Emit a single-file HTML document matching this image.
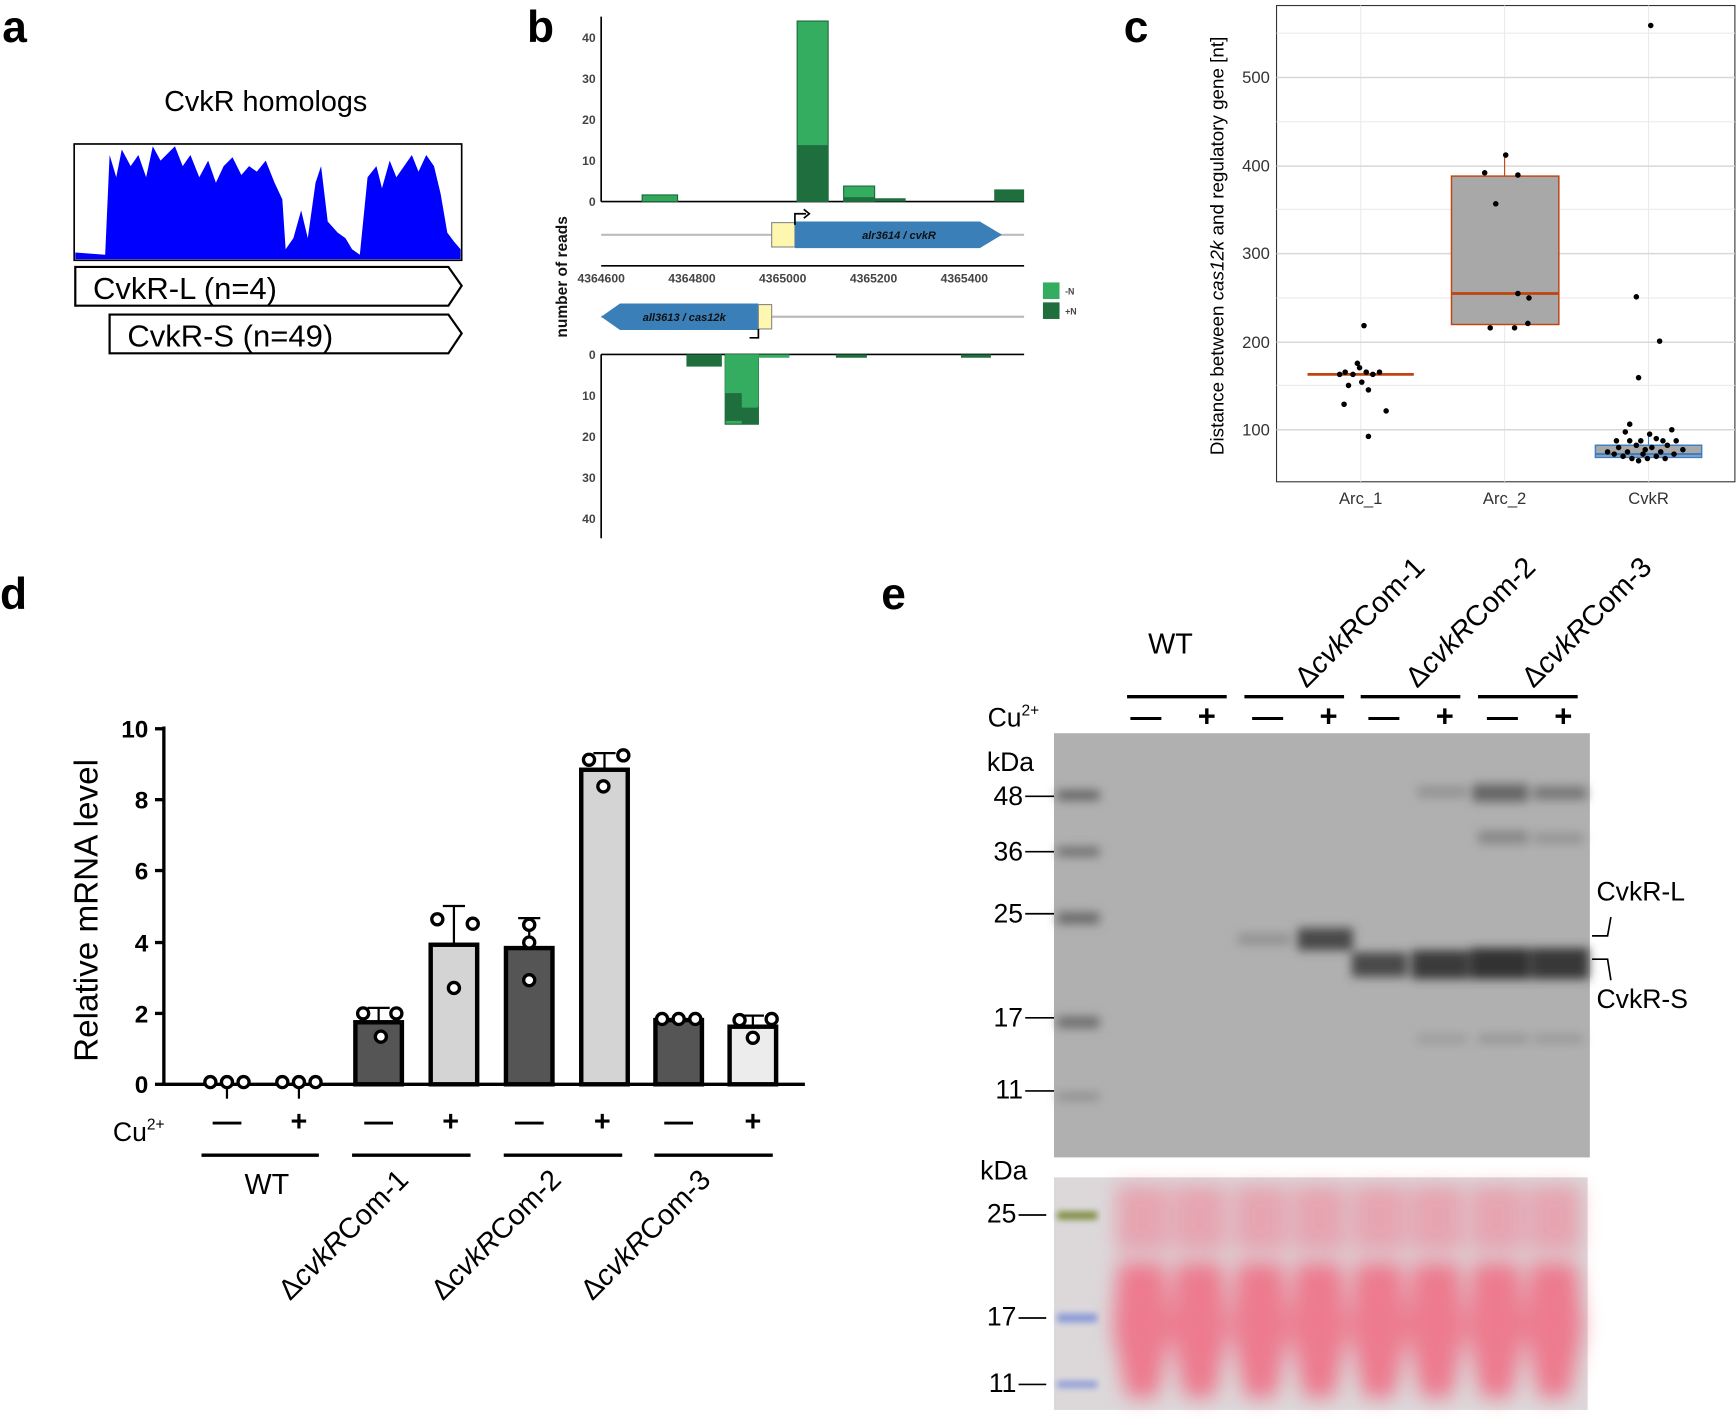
<!DOCTYPE html>
<html><head><meta charset="utf-8"><style>html,body{margin:0;padding:0;background:#fff}svg{display:block}text{font-family:"Liberation Sans",Arial,sans-serif}</style></head><body>
<svg width="1736" height="1421" viewBox="0 0 1568 1283" preserveAspectRatio="none" xmlns="http://www.w3.org/2000/svg">
<defs>
<filter id="blur3"><feGaussianBlur stdDeviation="4.5"/></filter>
<filter id="blur2"><feGaussianBlur stdDeviation="3"/></filter>
<filter id="blur6"><feGaussianBlur stdDeviation="9"/></filter>
</defs>
<g font-weight="bold" font-size="40">
<text x="2" y="38">a</text><text x="476" y="38">b</text><text x="1015" y="38">c</text>
<text x="0" y="550">d</text><text x="796" y="550">e</text></g>

<!-- a -->
<text x="240" y="100" font-size="26" text-anchor="middle">CvkR homologs</text>
<rect x="67" y="130" width="350" height="105" fill="#fff" stroke="#000" stroke-width="1.5"/>
<path d="M68,234 L68,228 L95,230 L99,140 L105,160 L110,135 L118,150 L125,140 L132,160 L138,132 L145,145 L152,138 L158,132 L165,150 L172,140 L180,160 L188,145 L195,165 L202,150 L210,142 L218,158 L225,150 L232,155 L240,145 L248,165 L255,180 L258,225 L265,215 L272,190 L278,215 L285,165 L290,150 L296,200 L305,210 L312,215 L318,225 L325,230 L332,160 L340,150 L345,170 L352,145 L358,160 L365,150 L372,140 L378,155 L385,140 L392,150 L398,175 L404,210 L410,218 L416,225 L416,234 Z" fill="#0000ff"/>
<path d="M68,241 L405,241 L417,258 L405,276 L68,276 Z" fill="#fff" stroke="#000" stroke-width="2"/>
<text x="84" y="270" font-size="28">CvkR-L (n=4)</text>
<path d="M99,284 L405,284 L417,301 L405,319 L99,319 Z" fill="#fff" stroke="#000" stroke-width="2"/>
<text x="115" y="313" font-size="28">CvkR-S (n=49)</text>

<!-- b -->
<g font-size="11" font-weight="bold" fill="#444">
<line x1="543" y1="15" x2="543" y2="182" stroke="#000" stroke-width="1.5"/>
<line x1="543" y1="182" x2="925" y2="182" stroke="#000" stroke-width="1.5"/>
<text x="538" y="186" text-anchor="end">0</text><text x="538" y="149" text-anchor="end">10</text><text x="538" y="112" text-anchor="end">20</text><text x="538" y="75" text-anchor="end">30</text><text x="538" y="38" text-anchor="end">40</text>
<rect x="580" y="176" width="32" height="6" fill="#34a85a" stroke="#1a6a38"/>
<rect x="720" y="19" width="28" height="163" fill="#34ad60" stroke="#1a6a38"/>
<rect x="720" y="131" width="28" height="51" fill="#1f6e3e"/>
<rect x="762" y="168" width="28" height="14" fill="#34ad60" stroke="#1a6a38"/>
<rect x="762" y="178" width="28" height="4" fill="#1f6e3e"/>
<rect x="790" y="179" width="28" height="3" fill="#1f6e3e"/>
<rect x="898" y="171" width="27" height="11" fill="#1f6e3e"/>
<line x1="543" y1="212" x2="925" y2="212" stroke="#bbb" stroke-width="2"/>
<rect x="697" y="201" width="21" height="22" fill="#fdf7b0" stroke="#888"/>
<path d="M718,200 L885,200 L905,212 L885,224 L718,224 Z" fill="#3a7fb8"/>
<text x="812" y="216" font-size="10" font-style="italic" fill="#111" text-anchor="middle">alr3614 / cvkR</text>
<path d="M718,203 L718,193 L728,193" fill="none" stroke="#000" stroke-width="1.5"/><path d="M726,189 L731,193 L726,197" fill="none" stroke="#000" stroke-width="1.5"/>
<line x1="543" y1="240" x2="925" y2="240" stroke="#000" stroke-width="1.5"/>
<text x="543" y="255" text-anchor="middle">4364600</text><text x="625" y="255" text-anchor="middle">4364800</text><text x="707" y="255" text-anchor="middle">4365000</text><text x="789" y="255" text-anchor="middle">4365200</text><text x="871" y="255" text-anchor="middle">4365400</text>
<rect x="942" y="255" width="15" height="15" fill="#34ad60"/><rect x="942" y="273" width="15" height="15" fill="#1f6e3e"/>
<text x="962" y="266" font-size="8">-N</text><text x="962" y="284" font-size="8">+N</text>
<line x1="543" y1="286" x2="925" y2="286" stroke="#bbb" stroke-width="2"/>
<path d="M685,274 L560,274 L543,286 L560,298 L685,298 Z" fill="#3a7fb8"/>
<rect x="685" y="275" width="12" height="22" fill="#fdf7b0" stroke="#888"/>
<text x="618" y="290" font-size="10" font-style="italic" fill="#111" text-anchor="middle">all3613 / cas12k</text>
<path d="M685,297 L685,305 L677,305" fill="none" stroke="#000" stroke-width="1.5"/>
<text transform="translate(512,250) rotate(-90)" font-size="14" fill="#111" text-anchor="middle">number of reads</text>
<line x1="543" y1="320" x2="543" y2="486" stroke="#000" stroke-width="1.5"/>
<line x1="543" y1="320" x2="925" y2="320" stroke="#000" stroke-width="1.5"/>
<text x="538" y="324" text-anchor="end">0</text><text x="538" y="361" text-anchor="end">10</text><text x="538" y="398" text-anchor="end">20</text><text x="538" y="435" text-anchor="end">30</text><text x="538" y="472" text-anchor="end">40</text>
<rect x="620" y="320" width="32" height="11" fill="#1f6e3e"/>
<rect x="655" y="320" width="30" height="63" fill="#34ad60" stroke="#1a6a38"/>
<path d="M655,320 L655,368 L670,368 L670,367 L685,367 L685,320 Z" fill="#34ad60"/>
<path d="M655,355 L670,355 L670,368 L685,368 L685,383 L670,383 L670,380 L655,380 Z" fill="#1f6e3e"/>
<rect x="685" y="320" width="28" height="3" fill="#34ad60"/>
<rect x="755" y="320" width="28" height="3" fill="#1f6e3e"/>
<rect x="868" y="320" width="27" height="3" fill="#1f6e3e"/>
</g>

<!-- c -->
<g>
<rect x="1153" y="5" width="414" height="430" fill="#fff" stroke="#333" stroke-width="1"/>
<g stroke="#ebebeb" stroke-width="1">
<line x1="1153" y1="348" x2="1567" y2="348"/><line x1="1153" y1="269" x2="1567" y2="269"/><line x1="1153" y1="189" x2="1567" y2="189"/><line x1="1153" y1="110" x2="1567" y2="110"/><line x1="1153" y1="30" x2="1567" y2="30"/>
<line x1="1229" y1="5" x2="1229" y2="435"/><line x1="1359" y1="5" x2="1359" y2="435"/><line x1="1489" y1="5" x2="1489" y2="435"/>
</g>
<g stroke="#d8d8d8" stroke-width="1.3">
<line x1="1153" y1="388" x2="1567" y2="388"/><line x1="1153" y1="309" x2="1567" y2="309"/><line x1="1153" y1="229" x2="1567" y2="229"/><line x1="1153" y1="150" x2="1567" y2="150"/><line x1="1153" y1="70" x2="1567" y2="70"/>
</g>
<g font-size="15" fill="#333" text-anchor="end">
<text x="1147" y="393">100</text><text x="1147" y="314">200</text><text x="1147" y="234">300</text><text x="1147" y="155">400</text><text x="1147" y="75">500</text></g>
<g font-size="15" fill="#333" text-anchor="middle"><text x="1229" y="455">Arc_1</text><text x="1359" y="455">Arc_2</text><text x="1489" y="455">CvkR</text></g>
<text transform="translate(1105,222) rotate(-90)" font-size="17" text-anchor="middle">Distance between <tspan font-style="italic">cas12k</tspan> and regulatory gene [nt]</text>
<line x1="1181" y1="338" x2="1277" y2="338" stroke="#c0440f" stroke-width="2.5"/>
<line x1="1359" y1="159" x2="1359" y2="142" stroke="#c0440f"/>
<rect x="1311" y="159" width="97" height="134" fill="#a8a8a8" stroke="#c0440f" stroke-width="1.3"/>
<line x1="1311" y1="265" x2="1408" y2="265" stroke="#c0440f" stroke-width="2.5"/>
<line x1="1489" y1="402" x2="1489" y2="390" stroke="#3a7fc8"/>
<rect x="1441" y="402" width="96" height="11" fill="#a8a8a8" stroke="#3a7fc8" stroke-width="1.3"/>
<line x1="1441" y1="410" x2="1537" y2="410" stroke="#3a7fc8" stroke-width="2"/>
<g fill="#000">
<circle cx="1232" cy="294" r="2.5"/><circle cx="1226" cy="328" r="2.5"/><circle cx="1215" cy="336" r="2.5"/><circle cx="1222" cy="338" r="2.5"/><circle cx="1234" cy="336" r="2.5"/><circle cx="1240" cy="338" r="2.5"/><circle cx="1246" cy="336" r="2.5"/><circle cx="1210" cy="338" r="2.5"/><circle cx="1228" cy="332" r="2.5"/><circle cx="1230" cy="345" r="2.5"/><circle cx="1218" cy="348" r="2.5"/><circle cx="1236" cy="352" r="2.5"/><circle cx="1214" cy="365" r="2.5"/><circle cx="1252" cy="371" r="2.5"/><circle cx="1236" cy="394" r="2.5"/>
<circle cx="1360" cy="140" r="2.5"/><circle cx="1341" cy="156" r="2.5"/><circle cx="1371" cy="158" r="2.5"/><circle cx="1351" cy="184" r="2.5"/><circle cx="1371" cy="265" r="2.5"/><circle cx="1381" cy="269" r="2.5"/><circle cx="1346" cy="296" r="2.5"/><circle cx="1368" cy="296" r="2.5"/><circle cx="1380" cy="292" r="2.5"/>
<circle cx="1491" cy="23" r="2.5"/><circle cx="1478" cy="268" r="2.5"/><circle cx="1499" cy="308" r="2.5"/><circle cx="1480" cy="341" r="2.5"/><circle cx="1472" cy="383" r="2.5"/><circle cx="1468" cy="390" r="2.5"/><circle cx="1510" cy="388" r="2.5"/><circle cx="1490" cy="392" r="2.5"/>
<circle cx="1462" cy="404" r="2.5"/><circle cx="1470" cy="408" r="2.5"/><circle cx="1478" cy="402" r="2.5"/><circle cx="1484" cy="410" r="2.5"/><circle cx="1492" cy="404" r="2.5"/><circle cx="1500" cy="408" r="2.5"/><circle cx="1506" cy="402" r="2.5"/><circle cx="1512" cy="410" r="2.5"/><circle cx="1466" cy="412" r="2.5"/><circle cx="1474" cy="414" r="2.5"/><circle cx="1488" cy="414" r="2.5"/><circle cx="1496" cy="412" r="2.5"/><circle cx="1504" cy="414" r="2.5"/><circle cx="1458" cy="410" r="2.5"/><circle cx="1482" cy="398" r="2.5"/><circle cx="1514" cy="398" r="2.5"/><circle cx="1460" cy="398" r="2.5"/><circle cx="1496" cy="396" r="2.5"/><circle cx="1480" cy="416" r="2.5"/><circle cx="1452" cy="408" r="2.5"/><circle cx="1520" cy="406" r="2.5"/><circle cx="1472" cy="398" r="2.5"/><circle cx="1502" cy="398" r="2.5"/><circle cx="1486" cy="406" r="2.5"/>
</g>
</g>

<!-- d -->
<g>
<line x1="148" y1="656" x2="148" y2="980" stroke="#000" stroke-width="3"/>
<line x1="146" y1="979" x2="727" y2="979" stroke="#000" stroke-width="3"/>
<g stroke="#000" stroke-width="3"><line x1="140" y1="658" x2="148" y2="658"/><line x1="140" y1="722" x2="148" y2="722"/><line x1="140" y1="786" x2="148" y2="786"/><line x1="140" y1="851" x2="148" y2="851"/><line x1="140" y1="915" x2="148" y2="915"/><line x1="140" y1="979" x2="148" y2="979"/></g>
<g font-size="22" font-weight="bold" text-anchor="end"><text x="134" y="666">10</text><text x="134" y="730">8</text><text x="134" y="794">6</text><text x="134" y="859">4</text><text x="134" y="923">2</text><text x="134" y="987">0</text></g>
<text transform="translate(88,822) rotate(-90)" font-size="30" text-anchor="middle">Relative mRNA level</text>
<g stroke="#000" stroke-width="4">
<rect x="321" y="923" width="42" height="56" fill="#555"/>
<rect x="389" y="853" width="42" height="126" fill="#d4d4d4"/>
<rect x="457" y="856" width="42" height="123" fill="#555"/>
<rect x="525" y="695" width="42" height="284" fill="#d4d4d4"/>
<rect x="592" y="921" width="42" height="58" fill="#555"/>
<rect x="659" y="927" width="42" height="52" fill="#ececec"/>
</g>
<g stroke="#000" stroke-width="2" fill="none">
<path d="M342,923 L342,910 M332,910 L352,910"/><path d="M410,853 L410,818 M400,818 L420,818"/><path d="M478,856 L478,829 M468,829 L488,829"/><path d="M546,695 L546,680 M536,680 L556,680"/><path d="M680,927 L680,917 M670,917 L690,917"/>
<path d="M205,979 L205,992"/><path d="M270,979 L270,992"/>
</g>
<g fill="#fff" stroke="#000" stroke-width="3">
<circle cx="190" cy="977" r="5"/><circle cx="205" cy="977" r="5"/><circle cx="220" cy="977" r="5"/><circle cx="255" cy="977" r="5"/><circle cx="270" cy="977" r="5"/><circle cx="285" cy="977" r="5"/>
<circle cx="328" cy="915" r="5"/><circle cx="344" cy="936" r="5"/><circle cx="358" cy="915" r="5"/>
<circle cx="395" cy="830" r="5"/><circle cx="410" cy="892" r="5"/><circle cx="427" cy="834" r="5"/>
<circle cx="478" cy="835" r="5"/><circle cx="478" cy="851" r="5"/><circle cx="478" cy="885" r="5"/>
<circle cx="532" cy="686" r="5"/><circle cx="545" cy="710" r="5"/><circle cx="563" cy="682" r="5"/>
<circle cx="598" cy="920" r="5"/><circle cx="613" cy="920" r="5"/><circle cx="628" cy="920" r="5"/>
<circle cx="668" cy="921" r="5"/><circle cx="680" cy="937" r="5"/><circle cx="697" cy="920" r="5"/>
</g>
<text x="102" y="1030" font-size="24">Cu<tspan font-size="14" dy="-10">2+</tspan></text>
<g font-size="26" font-weight="bold" text-anchor="middle">
<text x="205" y="1021">—</text><text x="270" y="1021">+</text><text x="342" y="1021">—</text><text x="407" y="1021">+</text><text x="478" y="1021">—</text><text x="544" y="1021">+</text><text x="613" y="1021">—</text><text x="680" y="1021">+</text></g>
<g stroke="#000" stroke-width="3"><line x1="182" y1="1043" x2="288" y2="1043"/><line x1="318" y1="1043" x2="425" y2="1043"/><line x1="455" y1="1043" x2="562" y2="1043"/><line x1="591" y1="1043" x2="698" y2="1043"/></g>
<text x="241" y="1078" font-size="26" text-anchor="middle">WT</text>
<text transform="translate(262,1175) rotate(-45)" font-size="26">Δ<tspan font-style="italic">cvkR</tspan>Com-1</text>
<text transform="translate(400,1175) rotate(-45)" font-size="26">Δ<tspan font-style="italic">cvkR</tspan>Com-2</text>
<text transform="translate(535,1175) rotate(-45)" font-size="26">Δ<tspan font-style="italic">cvkR</tspan>Com-3</text>
</g>

<!-- e -->
<g>
<text x="1037" y="590" font-size="26">WT</text>
<text transform="translate(1180,622) rotate(-45)" font-size="26">Δ<tspan font-style="italic">cvkR</tspan>Com-1</text>
<text transform="translate(1280,622) rotate(-45)" font-size="26">Δ<tspan font-style="italic">cvkR</tspan>Com-2</text>
<text transform="translate(1385,622) rotate(-45)" font-size="26">Δ<tspan font-style="italic">cvkR</tspan>Com-3</text>
<g stroke="#000" stroke-width="3"><line x1="1018" y1="629" x2="1108" y2="629"/><line x1="1124" y1="629" x2="1214" y2="629"/><line x1="1229" y1="629" x2="1319" y2="629"/><line x1="1335" y1="629" x2="1425" y2="629"/></g>
<text x="892" y="656" font-size="24">Cu<tspan font-size="14" dy="-10">2+</tspan></text>
<g font-size="28" font-weight="bold" text-anchor="middle">
<text x="1035" y="656">—</text><text x="1090" y="656">+</text><text x="1145" y="656">—</text><text x="1200" y="656">+</text><text x="1250" y="656">—</text><text x="1305" y="656">+</text><text x="1357" y="656">—</text><text x="1412" y="656">+</text></g>
<rect x="952" y="662" width="484" height="383" fill="#b0b0b0"/>
<g filter="url(#blur3)">
<rect x="955" y="714" width="38" height="8" fill="#5a5a5a"/><rect x="955" y="765" width="38" height="8" fill="#6a6a6a"/><rect x="955" y="824" width="38" height="10" fill="#666"/><rect x="955" y="918" width="38" height="10" fill="#6a6a6a"/><rect x="955" y="987" width="38" height="6" fill="#888"/>
<rect x="1118" y="843" width="48" height="10" fill="#929292"/>
<rect x="1172" y="838" width="50" height="20" fill="#4a4a4a"/>
<rect x="1221" y="860" width="50" height="22" fill="#4a4a4a"/>
<rect x="1275" y="858" width="52" height="26" fill="#3a3a3a"/>
<rect x="1328" y="856" width="54" height="28" fill="#333"/>
<rect x="1383" y="856" width="52" height="28" fill="#383838"/>
<rect x="1280" y="710" width="45" height="10" fill="#929292"/>
<rect x="1330" y="708" width="50" height="16" fill="#666"/>
<rect x="1385" y="710" width="48" height="12" fill="#777"/>
<rect x="1335" y="750" width="45" height="12" fill="#888"/>
<rect x="1385" y="752" width="45" height="10" fill="#959595"/>
<rect x="1335" y="934" width="45" height="8" fill="#959595"/>
<rect x="1385" y="934" width="45" height="8" fill="#999"/>
<rect x="1280" y="934" width="45" height="8" fill="#9c9c9c"/>
</g>
<g font-size="24" text-anchor="end">
<text x="934" y="696">kDa</text>
<text x="924" y="727">48</text><text x="924" y="777">36</text><text x="924" y="833">25</text><text x="924" y="927">17</text><text x="924" y="992">11</text></g>
<g stroke="#000" stroke-width="1.5"><line x1="926" y1="719" x2="952" y2="719"/><line x1="926" y1="769" x2="952" y2="769"/><line x1="926" y1="825" x2="952" y2="825"/><line x1="926" y1="919" x2="952" y2="919"/><line x1="926" y1="985" x2="952" y2="985"/>
<path d="M1438,845 L1452,845 L1455,828" fill="none"/><path d="M1438,866 L1452,866 L1455,885" fill="none"/></g>
<text x="1442" y="813" font-size="24">CvkR-L</text>
<text x="1442" y="910" font-size="24">CvkR-S</text>
<rect x="952" y="1063" width="482" height="210" fill="#dcd8da"/>
<g filter="url(#blur6)" fill="#f06a82" opacity="0.85">
<rect x="1008" y="1070" width="48" height="60" opacity="0.55"/><rect x="1060" y="1070" width="48" height="60" opacity="0.55"/><rect x="1115" y="1070" width="48" height="60" opacity="0.55"/><rect x="1168" y="1070" width="48" height="60" opacity="0.55"/><rect x="1222" y="1070" width="48" height="60" opacity="0.55"/><rect x="1274" y="1070" width="48" height="60" opacity="0.55"/><rect x="1328" y="1070" width="48" height="60" opacity="0.55"/><rect x="1380" y="1070" width="48" height="60" opacity="0.55"/>
<path d="M1010,1140 L1052,1140 L1058,1200 L1045,1262 L1018,1262 L1005,1200 Z"/>
<path d="M1062,1140 L1104,1140 L1110,1200 L1097,1262 L1070,1262 L1057,1200 Z"/>
<path d="M1117,1140 L1159,1140 L1165,1200 L1152,1262 L1125,1262 L1112,1200 Z"/>
<path d="M1170,1140 L1212,1140 L1218,1200 L1205,1262 L1178,1262 L1165,1200 Z"/>
<path d="M1224,1140 L1266,1140 L1272,1200 L1259,1262 L1232,1262 L1219,1200 Z"/>
<path d="M1276,1140 L1318,1140 L1324,1200 L1311,1262 L1284,1262 L1271,1200 Z"/>
<path d="M1330,1140 L1372,1140 L1378,1200 L1365,1262 L1338,1262 L1325,1200 Z"/>
<path d="M1382,1140 L1424,1140 L1430,1200 L1417,1262 L1390,1262 L1377,1200 Z"/>
</g>
<g filter="url(#blur2)"><rect x="955" y="1094" width="36" height="7" fill="#7a8a3a"/><rect x="955" y="1186" width="36" height="8" fill="#8a9ad8"/><rect x="955" y="1247" width="36" height="6" fill="#8a9ad8"/></g>
<g font-size="24" text-anchor="end"><text x="928" y="1065">kDa</text><text x="918" y="1104">25</text><text x="918" y="1197">17</text><text x="918" y="1257">11</text></g>
<g stroke="#000" stroke-width="1.5"><line x1="920" y1="1097" x2="945" y2="1097"/><line x1="920" y1="1190" x2="945" y2="1190"/><line x1="920" y1="1250" x2="945" y2="1250"/></g>
</g>
</svg>
</body></html>
